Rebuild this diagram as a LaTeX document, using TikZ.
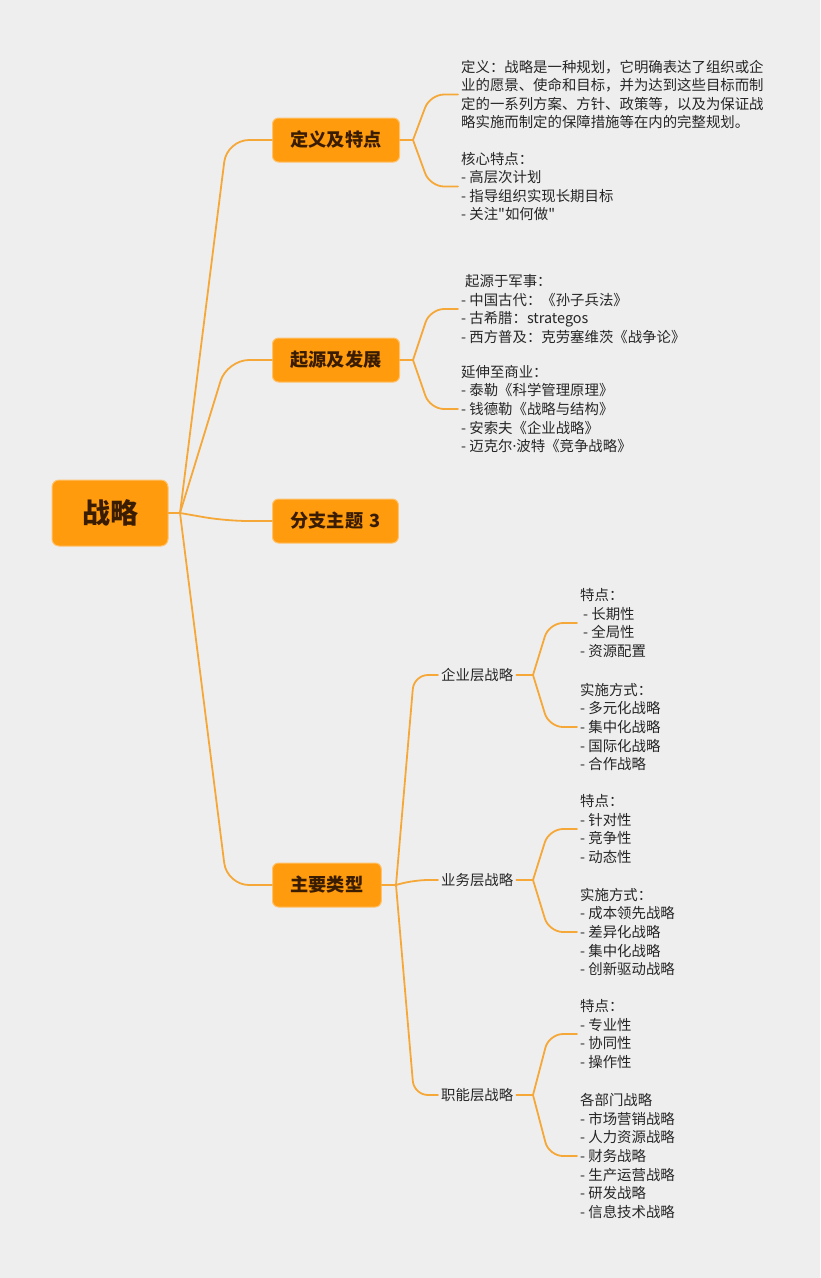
\documentclass[tikz,border=0pt]{standalone}
\usepackage{fontspec}
\setmainfont{Noto Sans CJK SC}[Ligatures=TeXOff]
\newfontfamily\latinfont{Noto Sans}
\usetikzlibrary
  {
    calc,
  }
\definecolor{paper}{HTML}{EEEEEE}
\definecolor{topicfill}{HTML}{FF9B0D}
\definecolor{topicrim}{HTML}{FFC26A}
\definecolor{topicink}{HTML}{3A1C00}
\definecolor{linkline}{HTML}{F5A838}
\definecolor{detailink}{HTML}{262626}
\tikzset
  {
    topic/.style=
      {
        draw=topicrim,
        line width=1pt,
        fill=topicfill,
        text=topicink,
        rounded corners=6pt,
        inner xsep=18pt,
        minimum height=44pt,
        font=\fontsize{18.2}{20}\selectfont\bfseries,
      },
    root/.style=
      {
        topic,
        inner xsep=0pt,
        minimum width=116pt,
        minimum height=66pt,
        rounded corners=7pt,
        font=\fontsize{28}{30}\selectfont\bfseries,
      },
    sub topic/.style=
      {
        anchor=west,
        inner sep=3pt,
        text=detailink,
        font=\fontsize{14.4}{18.6}\selectfont,
      },
    detail/.style=
      {
        anchor=west,
        align=left,
        inner xsep=3pt,
        inner ysep=0pt,
        text=detailink,
        font=\fontsize{14.4}{18.6}\selectfont,
      },
    link/.style=
      {
        draw=linkline,
        line width=1.8pt,
        line cap=round,
        rounded corners=22pt,
      },
    fork/.style={link, rounded corners=14pt},
  }

\begin{document}
\begin{tikzpicture}[x=1pt, y=-1pt]
  \fill[paper] (0,0) rectangle (820,1278);

  \node[root] (root) at (110,513) {战略};
  \coordinate (hub) at (180,513);

  \begin{scope}[every node/.style={topic, anchor=west}]
    \node (def) at (272,140) {定义及特点};
    \node (origin) at (272,360) {起源及发展};
    \node (third) at (272,521) {分支主题\hspace{6pt}3};
    \node (types) at (272,885) {主要类型};
  \end{scope}

  \coordinate (def fork) at (413,140);
  \coordinate (origin fork) at (413,360);
  \coordinate (types hub) at (396,885);

  \begin{scope}[every node/.style={detail}]
    \node (def a) at (458,94.5)
      {定义：战略是一种规划，它明确表达了组织或企\\
       业的愿景、使命和目标，并为达到这些目标而制\\
       定的一系列方案、方针、政策等，以及为保证战\\
       略实施而制定的保障措施等在内的完整规划。};
    \node (def b) at (458,186.5)
      {核心特点：\\- 高层次计划\\- 指导组织实现长期目标\\- 关注"如何做"};
    \node (origin a) at (458,309)
      {\hspace*{4pt}起源于军事：\\- 中国古代：《孙子兵法》\\- 古希腊：strategos\\
       - 西方普及：克劳塞维茨《战争论》};
    \node (origin b) at (458,409)
      {延伸至商业：\\- 泰勒《科学管理原理》\\- 钱德勒《战略与结构》\\
       - 安索夫《企业战略》\\- 迈克尔{\latinfont ·}波特《竞争战略》};
  \end{scope}

  \node[sub topic] (corp) at (438,675) {企业层战略};
  \node[sub topic] (biz) at (438,880) {业务层战略};
  \node[sub topic] (func) at (438,1095) {职能层战略};

  \coordinate (corp fork) at (533,675);
  \coordinate (biz fork) at (533,880);
  \coordinate (func fork) at (533,1095);

  \begin{scope}[every node/.style={detail}]
    \node (corp a) at (577,623)
      {特点：\\\hspace*{3pt}- 长期性\\\hspace*{3pt}- 全局性\\- 资源配置};
    \node (corp b) at (577,727)
      {实施方式：\\- 多元化战略\\- 集中化战略\\- 国际化战略\\- 合作战略};
    \node (biz a) at (577,829)
      {特点：\\- 针对性\\- 竞争性\\- 动态性};
    \node (biz b) at (577,932)
      {实施方式：\\- 成本领先战略\\- 差异化战略\\- 集中化战略\\- 创新驱动战略};
    \node (func a) at (577,1034)
      {特点：\\- 专业性\\- 协同性\\- 操作性};
    \node (func b) at (577,1156)
      {各部门战略\\- 市场营销战略\\- 人力资源战略\\- 财务战略\\- 生产运营战略\\
       - 研发战略\\- 信息技术战略};
  \end{scope}

  \draw[link] (root.east) -- (hub);
  \draw[link] (hub) -- ($(def.west)+(-45,0)$) -- (def.west);
  \draw[link] (hub) -- ($(origin.west)+(-45,0)$) -- (origin.west);
  \draw[link] (hub) -- ($(third.west)+(-46,0)$) -- (third.west);
  \draw[link] (hub) -- ($(types.west)+(-45,0)$) -- (types.west);

  \draw[link] (def.east) -- (def fork);
  \draw[fork] (def fork) -- ($(def a.west)+(-28,0)$) -- (def a.west);
  \draw[fork] (def fork) -- ($(def b.west)+(-28,0)$) -- (def b.west);
  \draw[link] (origin.east) -- (origin fork);
  \draw[fork] (origin fork) -- ($(origin a.west)+(-28,0)$) -- (origin a.west);
  \draw[fork] (origin fork) -- ($(origin b.west)+(-28,0)$) -- (origin b.west);

  \draw[link] (types.east) -- (types hub);
  \draw[fork] (types hub) -- ($(corp.west)+(-24,0)$) -- (corp.west);
  \draw[fork] (types hub) -- ($(biz.west)+(-24,0)$) -- (biz.west);
  \draw[fork] (types hub) -- ($(func.west)+(-24,0)$) -- (func.west);

  \draw[link] (corp.east) -- (corp fork);
  \draw[fork] (corp fork) -- ($(corp a.west)+(-28,0)$) -- (corp a.west);
  \draw[fork] (corp fork) -- ($(corp b.west)+(-28,0)$) -- (corp b.west);
  \draw[link] (biz.east) -- (biz fork);
  \draw[fork] (biz fork) -- ($(biz a.west)+(-28,0)$) -- (biz a.west);
  \draw[fork] (biz fork) -- ($(biz b.west)+(-28,0)$) -- (biz b.west);
  \draw[link] (func.east) -- (func fork);
  \draw[fork] (func fork) -- ($(func a.west)+(-28,0)$) -- (func a.west);
  \draw[fork] (func fork) -- ($(func b.west)+(-28,0)$) -- (func b.west);
\end{tikzpicture}
\end{document}
